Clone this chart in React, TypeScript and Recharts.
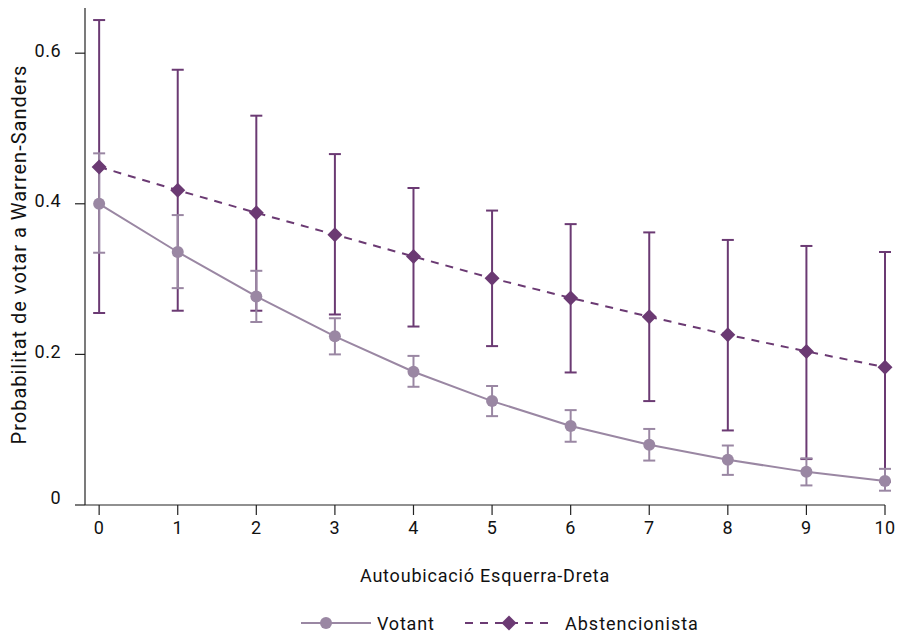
import { ComposedChart, Line, ErrorBar, XAxis, YAxis, Label } from 'recharts';

const positions = [0, 1, 2, 3, 4, 5, 6, 7, 8, 9, 10];

const votantMean = [0.400, 0.336, 0.277, 0.224, 0.177, 0.138, 0.105, 0.080, 0.060, 0.044, 0.032];
const votantLow = [0.335, 0.288, 0.243, 0.200, 0.157, 0.118, 0.084, 0.059, 0.040, 0.026, 0.019];
const votantHigh = [0.467, 0.385, 0.311, 0.248, 0.198, 0.158, 0.126, 0.101, 0.079, 0.062, 0.048];

const abstMean = [0.449, 0.418, 0.388, 0.359, 0.330, 0.301, 0.275, 0.250, 0.226, 0.204, 0.183];
const abstLow = [0.255, 0.258, 0.258, 0.253, 0.237, 0.211, 0.176, 0.138, 0.099, 0.061, 0.031];
const abstHigh = [0.644, 0.578, 0.517, 0.466, 0.421, 0.391, 0.373, 0.362, 0.352, 0.344, 0.336];

const yTicks = [0, 0.2, 0.4, 0.6];

const VOTANT = '#9a87a3';
const ABST = '#6b3a73';
const FONT = 'Roboto, "DejaVu Sans", sans-serif';

const data = positions.map((x, i) => ({
  x,
  votant: votantMean[i],
  votantErr: [votantMean[i] - votantLow[i], votantHigh[i] - votantMean[i]],
  abst: abstMean[i],
  abstErr: [abstMean[i] - abstLow[i], abstHigh[i] - abstMean[i]],
}));

const Diamond = ({ cx, cy, size = 7.5, fill }: { cx?: number; cy?: number; size?: number; fill: string }) => {
  if (cx == null || cy == null) return null;
  return (
    <path
      d={`M${cx},${cy - size} L${cx + size},${cy} L${cx},${cy + size} L${cx - size},${cy} Z`}
      fill={fill}
    />
  );
};

const YTick = ({ x, y, payload }: { x?: number; y?: number; payload?: { value: number } }) => {
  const v = payload?.value ?? 0;
  const shift = v === 0 ? -8 : -3;
  return (
    <text x={x} y={(y ?? 0) + shift} textAnchor="end" dominantBaseline="central" fill="#111" fontSize={18} letterSpacing={0.5}>
      {v === 0 ? '0' : v.toFixed(1)}
    </text>
  );
};

const YTitle = ({ viewBox }: { viewBox?: { x: number; y: number; width: number; height: number } }) => {
  if (!viewBox) return null;
  const cx = 19;
  const cy = viewBox.y + viewBox.height / 2 - 2;
  return (
    <text
      x={cx}
      y={cy}
      transform={`rotate(-90, ${cx}, ${cy})`}
      textAnchor="middle"
      dominantBaseline="central"
      fill="#111"
      fontSize={20}
      letterSpacing={1}
    >
      Probabilitat de votar a Warren-Sanders
    </text>
  );
};

export default function App() {
  return (
    <div style={{ position: 'absolute', left: 0, top: 0, width: 907, height: 634, fontFamily: FONT, background: '#fff' }}>
      <ComposedChart
        width={907}
        height={634}
        data={data}
        margin={{ top: 8, right: 22, bottom: 49, left: 0 }}
      >
        <XAxis
          type="number"
          dataKey="x"
          domain={[-0.18, 10]}
          ticks={positions}
          interval={0}
          height={80}
          tickSize={10}
          tickMargin={6}
          axisLine={{ stroke: '#222', strokeWidth: 1.2 }}
          tickLine={{ stroke: '#222', strokeWidth: 1.2 }}
          tick={{ fill: '#111', fontSize: 18, letterSpacing: 0.5 }}
        >
          <Label value="Autoubicació Esquerra-Dreta" position="insideBottom" offset={3} fill="#111" fontSize={18} letterSpacing={0.8} />
        </XAxis>
        <YAxis
          type="number"
          domain={[0, 0.66]}
          ticks={yTicks}
          width={85}
          tickSize={10}
          tickMargin={14}
          axisLine={{ stroke: '#222', strokeWidth: 1.2 }}
          tickLine={{ stroke: '#222', strokeWidth: 1.2 }}
          tick={<YTick />}
        >
          <Label content={<YTitle />} />
        </YAxis>
        <Line
          dataKey="abst"
          name="Abstencionista"
          stroke={ABST}
          strokeWidth={2}
          strokeDasharray="8 7"
          dot={(p: any) => <Diamond key={`d${p.index}`} cx={p.cx} cy={p.cy} fill={ABST} />}
          activeDot={false}
          isAnimationActive={false}
        >
          <ErrorBar dataKey="abstErr" direction="y" width={6} stroke={ABST} strokeWidth={2} isAnimationActive={false} />
        </Line>
        <Line
          dataKey="votant"
          name="Votant"
          stroke={VOTANT}
          strokeWidth={2}
          dot={{ r: 6, fill: VOTANT, stroke: 'none' }}
          activeDot={false}
          isAnimationActive={false}
        >
          <ErrorBar dataKey="votantErr" direction="y" width={6} stroke={VOTANT} strokeWidth={2} isAnimationActive={false} />
        </Line>
      </ComposedChart>
      <svg width={907} height={30} style={{ position: 'absolute', left: 0, top: 608 }}>
        <line x1={301} y1={15} x2={371} y2={15} stroke={VOTANT} strokeWidth={2} />
        <circle cx={326} cy={15} r={6} fill={VOTANT} />
        <text x={377} y={15} dominantBaseline="central" fill="#111" fontSize={18} letterSpacing={0.8}>Votant</text>
        <line x1={465} y1={15} x2={555} y2={15} stroke={ABST} strokeWidth={2} strokeDasharray="8 7" />
        <Diamond cx={509} cy={15} fill={ABST} />
        <text x={565} y={15} dominantBaseline="central" fill="#111" fontSize={18} letterSpacing={1}>Abstencionista</text>
      </svg>
    </div>
  );
}
